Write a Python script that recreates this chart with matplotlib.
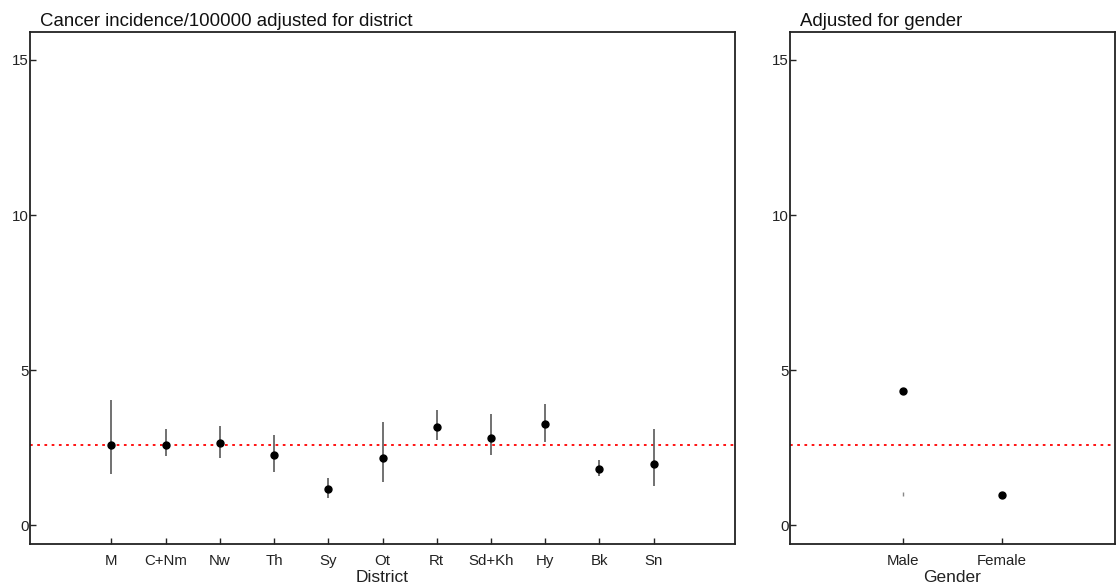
import matplotlib
matplotlib.use("Agg")
import matplotlib.pyplot as plt
import numpy as np

plt.rcParams['font.family'] = ['Liberation Sans', 'DejaVu Sans']

districts = ["M", "C+Nm", "Nw", "Th", "Sy", "Ot", "Rt", "Sd+Kh", "Hy", "Bk", "Sn"]
district_est = [2.60, 2.60, 2.66, 2.27, 1.17, 2.18, 3.17, 2.83, 3.28, 1.83, 1.99]
district_lo = [1.65, 2.22, 2.16, 1.73, 0.88, 1.40, 2.74, 2.26, 2.69, 1.59, 1.26]
district_hi = [4.05, 3.09, 3.19, 2.90, 1.53, 3.34, 3.72, 3.58, 3.91, 2.10, 3.10]

genders = ["Male", "Female"]
gender_est = [4.33, 0.98]
gender_ci_lo = [0.94, 0.98]
gender_ci_hi = [1.06, 0.98]

overall_rate = 2.60
yticks = [0, 5, 10, 15]

fig = plt.figure(figsize=(11.16, 5.88), dpi=100)
ax1 = fig.add_axes([30/1116, 1-544/588, 705/1116, 512/588])
ax2 = fig.add_axes([790/1116, 1-544/588, 325/1116, 512/588])

def style(ax):
    for s in ax.spines.values():
        s.set_color('#222222')
        s.set_linewidth(1.3)
    ax.tick_params(direction='in', length=4, width=1, colors='#222222',
                   labelsize=10.8, labelcolor='#222222')
    ax.tick_params(axis='x', pad=7)
    ax.tick_params(axis='y', pad=1)
    ax.set_ylim(-0.6, 15.9)
    ax.set_yticks(yticks)
    ax.axhline(overall_rate, color='red', linestyle=(0, (1.5, 2.5)), linewidth=1.3, zorder=1)

def title(ax, txt):
    ax.annotate(txt, xy=(0, 1), xycoords='axes fraction', xytext=(10, 6),
                textcoords='offset pixels', ha='left', va='baseline',
                fontsize=13.4, color='#111111')

# District panel
xd = np.arange(1, len(districts) + 1)
ax1.vlines(xd, district_lo, district_hi, color='#666666', linewidth=1.3, zorder=2)
ax1.plot(xd, district_est, 'o', color='black', markersize=5, zorder=3)
ax1.set_xlim(-0.5, 12.5)
ax1.set_xticks(xd)
ax1.set_xticklabels(districts)
style(ax1)
ax1.set_xlabel("District", fontsize=12.5, color='#222222', labelpad=2)
title(ax1, "Cancer incidence/100000 adjusted for district")

# Gender panel
xg = np.arange(1, len(genders) + 1)
ax2.vlines(xg, gender_ci_lo, gender_ci_hi, color='#888888', linewidth=1, zorder=2)
ax2.plot(xg, gender_est, 'o', color='black', markersize=5, zorder=3)
ax2.set_xlim(-0.15, 3.15)
ax2.set_xticks(xg)
ax2.set_xticklabels(genders)
style(ax2)
ax2.set_xlabel("Gender", fontsize=12.5, color='#222222', labelpad=2)
title(ax2, "Adjusted for gender")

fig.savefig("out.png", dpi=100)
